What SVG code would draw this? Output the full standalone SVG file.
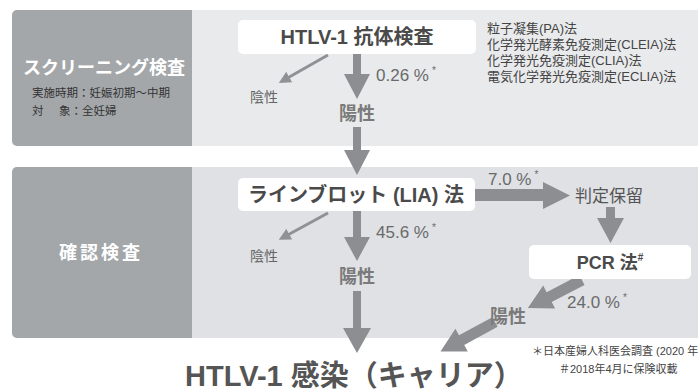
<svg xmlns="http://www.w3.org/2000/svg" width="698" height="392" viewBox="0 0 698 392">
<defs>
<style>
.jp{font-family:"Liberation Sans","Noto Sans CJK JP",sans-serif}
.box{fill:#ffffff}
.dark{fill:#a4a7aa}
.arr{fill:#8c8e91}
.thin{stroke:#8f9194;stroke-width:3;fill:none}
.title{font-weight:bold;font-size:20px;fill:#4a4a4a}
.neg{font-size:14px;fill:#666}
.pos{font-size:18px;font-weight:bold;fill:#7a7a7a}
.pct{font-size:17px;fill:#6a6a6a}
.sup{font-size:10px;fill:#6a6a6a}
.meth{font-size:13px;fill:#444}
.foot{font-size:11px;fill:#444}
</style>
<marker id="th" viewBox="0 0 10 10" refX="5" refY="5" markerWidth="4" markerHeight="4" orient="auto" markerUnits="strokeWidth">
<path d="M0,0 L10,5 L0,10 z" fill="#8f9194"/>
</marker>
</defs>
<rect width="698" height="392" fill="#ffffff"/>
<g id="panel-screening">
<rect x="12" y="10" width="700" height="136" rx="5" fill="#e9eaec"/>
<path class="dark" d="M17,10 H192 V146 H17 A5,5 0 0 1 12,141 V15 A5,5 0 0 1 17,10 Z"/>
<text class="jp" x="23" y="74" font-size="18" font-weight="bold" fill="#ffffff">スクリーニング検査</text>
<text class="jp" x="32" y="97" font-size="11.5" fill="#333">実施時期：妊娠初期〜中期</text>
<text class="jp" x="32" y="115" font-size="11.5" fill="#333">対<tspan x="59">象：全妊婦</tspan></text>
</g>
<g id="panel-confirm">
<rect x="12" y="167" width="700" height="171" rx="5" fill="#dfe1e4"/>
<path class="dark" d="M17,167 H192 V338 H17 A5,5 0 0 1 12,333 V172 A5,5 0 0 1 17,167 Z"/>
<text class="jp" x="101" y="259" font-size="18" font-weight="bold" fill="#ffffff" text-anchor="middle" letter-spacing="3">確認検査</text>
</g>
<g id="connectors">
<polygon class="arr" points="353,54 361,54 361,74 370,74 357,99 344,74 353,74"/>
<polygon class="arr" points="353,127 361,127 361,150 370,150 357,175 344,150 353,150"/>
<polygon class="arr" points="353,211 361,211 361,237 370,237 357,261 344,237 353,237"/>
<polygon class="arr" points="353,291 361,291 361,328 371,328 357,353 343,328 353,328"/>
<polygon class="arr" points="475,189 543,189 543,182 570,195.5 543,209 543,201 475,201"/>
<polygon class="arr" points="606,207 615,207 615,218 624,218 610.5,243 597,218 606,218"/>
<polygon class="arr" transform="translate(582,280) rotate(152.6)" points="0,-5.5 37,-5.5 37,-13 61,0 37,13 37,5.5 0,5.5"/>
<polygon class="arr" transform="translate(495,322) rotate(151.5)" points="0,-5.5 38,-5.5 38,-13 62,0 38,13 38,5.5 0,5.5"/>
<line class="thin" x1="328" y1="55" x2="284" y2="80" marker-end="url(#th)"/>
<line class="thin" x1="328" y1="213" x2="284" y2="237" marker-end="url(#th)"/>
</g>
<g id="node-antibody">
<rect class="box" x="238" y="20" width="238" height="34" rx="5"/>
<text class="jp title" x="357" y="44" text-anchor="middle">HTLV-1 抗体検査</text>
</g>
<g id="node-methods">
<text class="jp meth" x="487" y="33">粒子凝集(PA)法</text>
<text class="jp meth" x="487" y="49">化学発光酵素免疫測定(CLEIA)法</text>
<text class="jp meth" x="487" y="65">化学発光免疫測定(CLIA)法</text>
<text class="jp meth" x="487" y="81">電気化学発光免疫測定(ECLIA)法</text>
</g>
<g id="node-neg1"><text class="jp neg" x="250" y="102">陰性</text></g>
<g id="node-pct1"><text class="jp pct" x="376" y="81">0.26 %<tspan class="sup" dx="3" dy="-7">*</tspan></text></g>
<g id="node-pos1"><text class="jp pos" x="357" y="120" text-anchor="middle">陽性</text></g>
<g id="node-lia">
<rect class="box" x="238" y="178" width="237" height="33" rx="5"/>
<text class="jp title" x="356" y="202" text-anchor="middle">ラインブロット (LIA) 法</text>
</g>
<g id="node-neg2"><text class="jp neg" x="250" y="261">陰性</text></g>
<g id="node-pct2"><text class="jp pct" x="376" y="238">45.6 %<tspan class="sup" dx="3" dy="-7">*</tspan></text></g>
<g id="node-pos2"><text class="jp pos" x="357" y="283" text-anchor="middle">陽性</text></g>
<g id="node-pct3"><text class="jp pct" x="488" y="185">7.0 %<tspan class="sup" dx="3" dy="-7">*</tspan></text></g>
<g id="node-pending"><text class="jp" x="575" y="202" font-size="17" fill="#555">判定保留</text></g>
<g id="node-pcr">
<rect class="box" x="529" y="245" width="162" height="34" rx="5"/>
<text class="jp" x="610" y="269" text-anchor="middle" font-size="18" font-weight="bold" fill="#4a4a4a">PCR 法<tspan font-size="10" dy="-8">#</tspan></text>
</g>
<g id="node-pct4"><text class="jp pct" x="567" y="308">24.0 %<tspan class="sup" dx="3" dy="-7">*</tspan></text></g>
<g id="node-pos3"><text class="jp pos" x="508" y="323" text-anchor="middle">陽性</text></g>
<g id="node-carrier"><text class="jp" x="185" y="386" font-size="29" font-weight="bold" fill="#555">HTLV-1 感染（キャリア）</text></g>
<g id="node-notes">
<text class="jp foot" x="532" y="355">＊日本産婦人科医会調査 (2020 年</text>
<text class="jp foot" x="559" y="373">＃2018年4月に保険収載</text>
</g>
</svg>
